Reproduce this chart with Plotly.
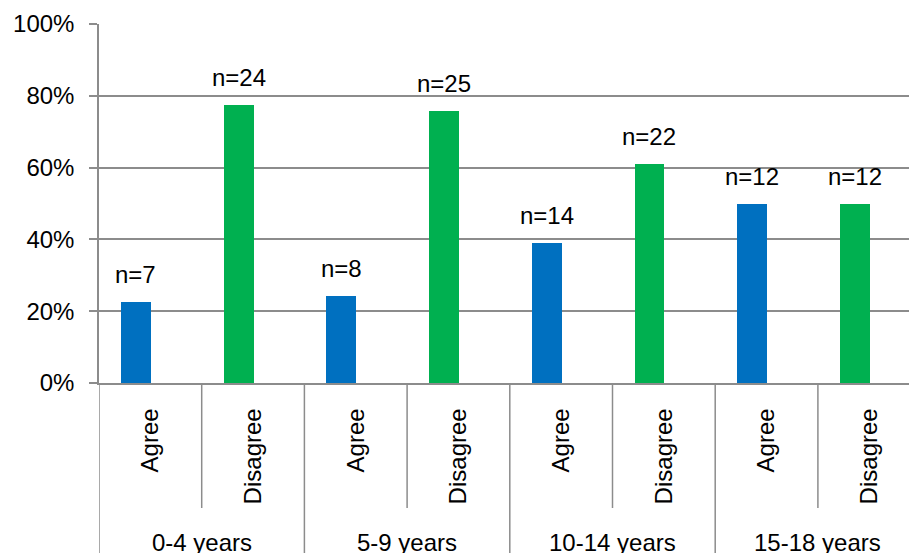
import plotly.graph_objects as go

# Survey responses by years of experience
groups = ["0-4 years", "5-9 years", "10-14 years", "15-18 years"]
responses = ["Agree", "Disagree"]
agree_n = [7, 8, 14, 12]
disagree_n = [24, 25, 22, 12]

AGREE_COLOR = "#0070C0"
DISAGREE_COLOR = "#00B050"
LINE_COLOR = "#8C8C8C"
FONT = "Liberation Sans, Arial, sans-serif"

# Share of each response within its group
agree_pct = [a / (a + d) * 100 for a, d in zip(agree_n, disagree_n)]
disagree_pct = [d / (a + d) * 100 for a, d in zip(agree_n, disagree_n)]

# one slot per (group, response)
slot_labels = []
slot_vals, slot_n, slot_col = [], [], []
for g in range(len(groups)):
    for r, resp in enumerate(responses):
        slot_labels.append(resp)
        slot_vals.append(agree_pct[g] if r == 0 else disagree_pct[g])
        slot_n.append(agree_n[g] if r == 0 else disagree_n[g])
        slot_col.append(AGREE_COLOR if r == 0 else DISAGREE_COLOR)

slots = list(range(len(slot_labels)))
bar_offset = -0.14
bar_x = [s + bar_offset for s in slots]

fig = go.Figure()
fig.add_trace(go.Bar(
    x=bar_x, y=slot_vals, width=0.29,
    marker=dict(color=slot_col, line=dict(width=0)),
    showlegend=False, hoverinfo="skip",
))

# n= labels above the bars
for x, v, n in zip(bar_x, slot_vals, slot_n):
    fig.add_annotation(
        x=x, y=v, xref="x", yref="y", text=f"n={n}", showarrow=False,
        yanchor="bottom", yshift=12, font=dict(size=24, color="black", family=FONT),
    )

# group separators and group names below the category axis
y_sub = (383 - 508) / 359
y_grp = (383 - 560) / 359
for g, name in enumerate(groups):
    left = 2 * g - 0.5
    fig.add_shape(type="line", xref="x", yref="paper", x0=left, x1=left,
                  y0=0, y1=y_grp, line=dict(color=LINE_COLOR, width=1.5))
    mid = 2 * g + 0.5
    fig.add_shape(type="line", xref="x", yref="paper", x0=mid, x1=mid,
                  y0=0, y1=y_sub, line=dict(color=LINE_COLOR, width=1.5))
    fig.add_annotation(
        x=mid, y=(383 - 527) / 359, xref="x", yref="paper", text=name,
        showarrow=False, yanchor="top", font=dict(size=24, color="black", family=FONT),
    )

fig.update_layout(
    width=909, height=553,
    margin=dict(l=99, r=0, t=24, b=170),
    plot_bgcolor="white", paper_bgcolor="white",
    font=dict(family=FONT, size=24, color="black"),
    bargap=0,
    xaxis=dict(
        range=[-0.5, 7.387],
        tickmode="array", tickvals=slots, ticktext=slot_labels,
        tickangle=-90, ticks="", ticklabelstandoff=14,
        showgrid=False, zeroline=False,
        showline=True, linecolor=LINE_COLOR, linewidth=1.5,
        tickfont=dict(size=24, color="black", family=FONT),
    ),
    yaxis=dict(
        range=[0, 100], tickvals=[0, 20, 40, 60, 80, 100],
        ticktext=["0%", "20%", "40%", "60%", "80%", "100%"],
        showgrid=True, gridcolor=LINE_COLOR, gridwidth=1.5,
        zeroline=False, showline=True, linecolor=LINE_COLOR, linewidth=1.5,
        ticks="outside", ticklen=8, tickcolor=LINE_COLOR, tickwidth=1.5,
        ticklabelstandoff=10,
        tickfont=dict(size=24, color="black", family=FONT),
    ),
)

fig.write_html("out.html")
